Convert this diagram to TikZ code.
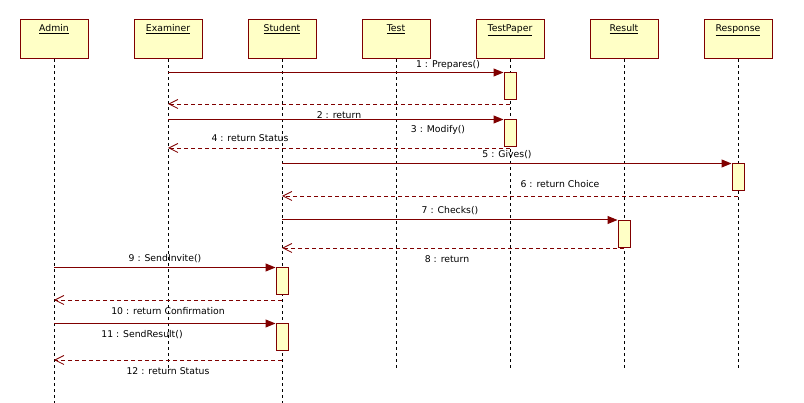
\documentclass[tikz,border=0pt]{standalone}
\usepackage{fontspec}
\setmainfont{DejaVu Sans}
\usetikzlibrary{arrows.meta}
\definecolor{umlred}{HTML}{800000}
\definecolor{umlfill}{HTML}{FFFFC6}
\begin{document}
\begin{tikzpicture}[x=1pt,y=-1pt,
  head/.style={draw=umlred,fill=umlfill,line width=1pt,minimum width=68pt,minimum height=39pt,inner sep=0pt},
  htext/.style={anchor=north,inner sep=0pt,font=\fontsize{9.3}{10}\selectfont},
  act/.style={draw=umlred,fill=umlfill,line width=1pt,minimum width=12pt,minimum height=27pt,inner sep=0pt},
  life/.style={black,line width=0.8pt,dash pattern=on 3pt off 3pt},
  msg/.style={umlred,line width=1pt,-{Triangle[length=10pt,width=8pt]}},
  ret/.style={umlred,line width=0.8pt,dash pattern=on 4pt off 3pt,-{Straight Barb[length=9pt,width=9pt,line width=0.8pt]}},
  lbl/.style={inner sep=0pt,font=\fontsize{9.3}{10}\selectfont}]
\useasboundingbox (0,0) rectangle (804,403);
% heads
\node[head] (ad) at (54,39.5) {};
\node[head] (ex) at (168,39.5) {};
\node[head] (st) at (282,39.5) {};
\node[head] (te) at (396,39.5) {};
\node[head] (tp) at (510,39.5) {};
\node[head] (re) at (624,39.5) {};
\node[head] (rs) at (738,39.5) {};
\node[htext] (adt) at ([yshift=-5pt]ad.north) {\underline{Admin}};
\node[htext] (ext) at ([yshift=-5pt]ex.north) {\underline{Examiner}};
\node[htext] (stt) at ([yshift=-5pt]st.north) {\underline{Student}};
\node[htext] (tet) at ([yshift=-5pt]te.north) {\underline{Test}};
\node[htext] (tpt) at ([yshift=-5pt]tp.north) {\underline{TestPaper}};
\node[htext] (ret) at ([yshift=-5pt]re.north) {\underline{Result}};
\node[htext] (rst) at ([yshift=-5pt]rs.north) {\underline{Response}};
% lifelines
\draw[life] (ad.south) -- (ad.south |- 0,403);
\draw[life] (ex.south) -- (ex.south |- 0,369);
\draw[life] (st.south) -- (st.south |- 0,403);
\draw[life] (te.south) -- (te.south |- 0,369);
\draw[life] (tp.south) -- (tp.south |- 0,369);
\draw[life] (re.south) -- (re.south |- 0,369);
\draw[life] (rs.south) -- (rs.south |- 0,369);
% activations
\node[act] (a1) at (510,86.5) {};
\node[act] (a2) at (510,133.5) {};
\node[act] (a3) at (738,177.5) {};
\node[act] (a4) at (624,234) {};
\node[act] (a5) at (282,281.5) {};
\node[act] (a6) at (282,337.5) {};
% return end coordinates
\coordinate (r1) at (510,104);
\coordinate (r2) at (510,148);
\coordinate (r3) at (738,196);
\coordinate (r4) at (624,248);
\coordinate (r5) at (282,300);
\coordinate (r6) at (282,360);
% messages
\draw[msg] (ex |- a1.north) -- (a1.north west);
\draw[ret] (r1) -- (ex |- r1);
\draw[msg] (ex |- a2.north) -- (a2.north west);
\draw[ret] (r2) -- (ex |- r2);
\draw[msg] (st |- a3.north) -- (a3.north west);
\draw[ret] (r3) -- (st |- r3);
\draw[msg] (st |- a4.north) -- (a4.north west);
\draw[ret] (r4) -- (st |- r4);
\draw[msg] (ad |- a5.north) -- (a5.north west);
\draw[ret] (r5) -- (ad |- r5);
\draw[msg] (ad |- a6.north) -- (a6.north west);
\draw[ret] (r6) -- (ad |- r6);
% labels
\node[lbl] (l1) at (448,65) {1 : Prepares()};
\node[lbl] (l2) at (339,115) {2 : return};
\node[lbl] (l3) at (438,130) {3 : Modify()};
\node[lbl] (l4) at (250,138) {4 : return Status};
\node[lbl] (l5) at (507,155) {5 : Gives()};
\node[lbl] (l6) at (560,184) {6 : return Choice};
\node[lbl] (l7) at (450,211) {7 : Checks()};
\node[lbl] (l8) at (447,259) {8 : return};
\node[lbl] (l9) at (165,259) {9 : SendInvite()};
\node[lbl] (l10) at (168,311) {10 : return Confirmation};
\node[lbl] (l11) at (142,335) {11 : SendResult()};
\node[lbl] (l12) at (168,371) {12 : return Status};
\end{tikzpicture}
\end{document}
